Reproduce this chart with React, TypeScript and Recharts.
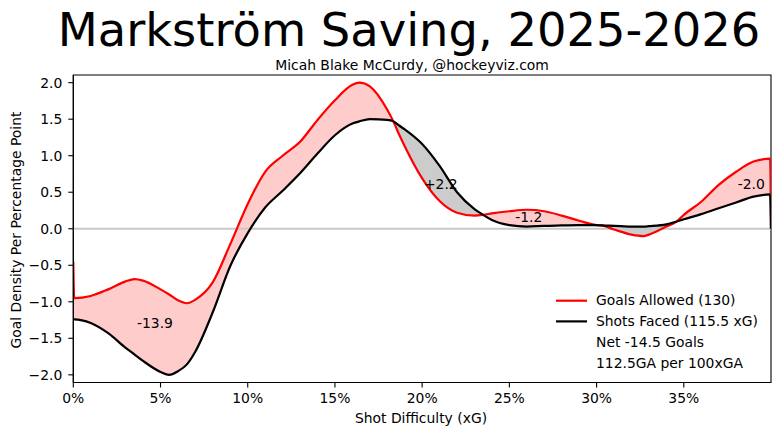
import React from 'react';
import {
  ComposedChart,
  Line,
  Area,
  XAxis,
  YAxis,
  ReferenceLine,
  ReferenceArea,
  ReferenceDot,
} from 'recharts';

// Shot difficulty (xG, as fraction)
const shotDifficulty = [
  0, 0.0005, 0.01, 0.02, 0.03, 0.035, 0.04, 0.05, 0.055, 0.06, 0.065, 0.07, 0.08, 0.09, 0.1,
  0.11, 0.12, 0.13, 0.14, 0.15, 0.16, 0.164, 0.17, 0.18, 0.1835, 0.187, 0.19, 0.2, 0.21,
  0.22, 0.23, 0.235, 0.24, 0.25, 0.26, 0.27, 0.28, 0.29, 0.3, 0.303, 0.31, 0.32, 0.327,
  0.33, 0.34, 0.346, 0.35, 0.36, 0.37, 0.38, 0.39, 0.3995, 0.4,
];

// Goals Allowed density
const goalsAllowed = [
  -0.45, -0.95, -0.92, -0.83, -0.72, -0.69, -0.71, -0.83, -0.9, -0.98, -1.02, -0.97, -0.73, -0.21, 0.34,
  0.78, 1.0, 1.19, 1.49, 1.76, 1.97, 2.0, 1.95, 1.63, 1.47, 1.28, 1.13, 0.69, 0.38,
  0.22, 0.18, 0.19, 0.21, 0.24, 0.26, 0.24, 0.18, 0.11, 0.05, 0.045, -0.01, -0.08, -0.1,
  -0.08, 0.03, 0.1, 0.19, 0.37, 0.6, 0.78, 0.92, 0.96, 0,
];

// Shots Faced density
const shotsFaced = [
  -1.24, -1.24, -1.29, -1.43, -1.63, -1.72, -1.81, -1.96, -2.0, -1.95, -1.86, -1.68, -1.14, -0.51, -0.06,
  0.29, 0.52, 0.76, 1.03, 1.28, 1.44, 1.47, 1.5, 1.49, 1.47, 1.41, 1.36, 1.16, 0.86,
  0.5, 0.27, 0.19, 0.12, 0.05, 0.03, 0.04, 0.045, 0.05, 0.05, 0.045, 0.04, 0.03, 0.03,
  0.035, 0.06, 0.1, 0.13, 0.2, 0.28, 0.36, 0.44, 0.47, 0,
];

const xTicks = [0, 0.05, 0.1, 0.15, 0.2, 0.25, 0.3, 0.35];
const yTicks = [-2, -1.5, -1, -0.5, 0, 0.5, 1, 1.5, 2];

const annotationLabels = ['-13.9', '+2.2', '-1.2', '-2.0'];
const annotationX = [0.0468, 0.2107, 0.2611, 0.3887];
const annotationY = [-1.286, 0.616, 0.164, 0.616];

const legendLabels = ['Goals Allowed (130)', 'Shots Faced (115.5 xG)'];
const legendExtra = ['Net -14.5 Goals', '112.5GA per 100xGA'];

const TITLE = 'Markström Saving, 2025-2026';
const SUBTITLE = 'Micah Blake McCurdy, @hockeyviz.com';
const X_LABEL = 'Shot Difficulty (xG)';
const Y_LABEL = 'Goal Density Per Percentage Point';

const X_MIN = 0;
const X_MAX = 0.4;
const Y_MIN = -2.105;
const Y_MAX = 2.105;

const RED = '#ff0000';
const BLACK = '#000000';
const PINK = '#ffcccc';
const GREY = '#cccccc';
const FONT = '"DejaVu Sans", sans-serif';
const FS = 13.9;

const data = shotDifficulty.map((x, i) => {
  const r = goalsAllowed[i];
  const b = shotsFaced[i];
  const hi = Math.max(r, b);
  return {
    x,
    ga: r,
    sf: b,
    pinkBand: [b, hi],
    greyBand: [r, hi],
  };
});

const fmtY = (v: number) => v.toFixed(1).replace('-', '\u2212');
const fmtX = (v: number) => `${Math.round(v * 100)}%`;

const AnnotationLabel = (text: string) => (props: any) => {
  const vb = props.viewBox || {};
  const cx = (vb.x ?? 0) + (vb.width ?? 0) / 2;
  const cy = (vb.y ?? 0) + (vb.height ?? 0) / 2;
  return (
    <text
      x={cx}
      y={cy + 5}
      textAnchor="middle"
      fontFamily={FONT}
      fontSize={FS}
      fill="#000"
    >
      {text}
    </text>
  );
};

export default function App() {
  return (
    <div style={{ position: 'absolute', left: 0, top: 0, width: 780, height: 436, background: '#fff' }}>
      <ComposedChart
        width={780}
        height={436}
        data={data}
        margin={{ top: 75, right: 9, bottom: 0, left: 0 }}
      >
        <XAxis
          dataKey="x"
          type="number"
          domain={[X_MIN, X_MAX]}
          ticks={xTicks}
          tickFormatter={fmtX}
          allowDataOverflow
          height={53.5}
          tickSize={5}
          tickMargin={6}
          axisLine={{ stroke: '#000', strokeWidth: 1.1 }}
          tickLine={{ stroke: '#000', strokeWidth: 1.1 }}
          tick={{ fill: '#000', fontSize: FS, fontFamily: FONT }}
        />
        <YAxis
          type="number"
          domain={[Y_MIN, Y_MAX]}
          ticks={yTicks}
          tickFormatter={fmtY}
          allowDataOverflow
          width={73.3}
          tickSize={5}
          tickMargin={6}
          axisLine={{ stroke: '#000', strokeWidth: 1.1 }}
          tickLine={{ stroke: '#000', strokeWidth: 1.1 }}
          tick={{ fill: '#000', fontSize: FS, fontFamily: FONT }}
        />
        <ReferenceLine y={0} stroke="#c8c8c8" strokeWidth={1.8} />
        <Area
          dataKey="pinkBand"
          type="monotone"
          fill={PINK}
          fillOpacity={1}
          stroke="none"
          isAnimationActive={false}
          dot={false}
          activeDot={false}
        />
        <Area
          dataKey="greyBand"
          type="monotone"
          fill={GREY}
          fillOpacity={1}
          stroke="none"
          isAnimationActive={false}
          dot={false}
          activeDot={false}
        />
        <Line
          dataKey="ga"
          type="monotone"
          stroke={RED}
          strokeWidth={2.2}
          dot={false}
          activeDot={false}
          isAnimationActive={false}
        />
        <Line
          dataKey="sf"
          type="monotone"
          stroke={BLACK}
          strokeWidth={2.2}
          dot={false}
          activeDot={false}
          isAnimationActive={false}
        />
        {annotationLabels.map((t, i) => (
          <ReferenceDot
            key={t}
            x={annotationX[i]}
            y={annotationY[i]}
            r={1}
            fill="none"
            stroke="none"
            label={AnnotationLabel(t)}
          />
        ))}
        <ReferenceArea
          x1={X_MIN}
          x2={X_MAX}
          y1={Y_MIN}
          y2={Y_MAX}
          fill="none"
          fillOpacity={0}
          stroke="#000"
          strokeWidth={1.1}
        />
      </ComposedChart>
      <svg
        width={780}
        height={436}
        style={{ position: 'absolute', left: 0, top: 0, pointerEvents: 'none' }}
      >
        <text x={409} y={46} textAnchor="middle" fontFamily={FONT} fontSize={46.4} fill="#000">
          {TITLE}
        </text>
        <text x={412} y={70} textAnchor="middle" fontFamily={FONT} fontSize={FS} fill="#000">
          {SUBTITLE}
        </text>
        <text x={421} y={423.3} textAnchor="middle" fontFamily={FONT} fontSize={FS} fill="#000">
          {X_LABEL}
        </text>
        <text
          x={0}
          y={0}
          transform="translate(21,230) rotate(-90)"
          textAnchor="middle"
          fontFamily={FONT}
          fontSize={FS}
          fill="#000"
        >
          {Y_LABEL}
        </text>
        {legendLabels.map((t, i) => (
          <g key={t}>
            <line
              x1={556}
              x2={587}
              y1={300.7 + i * 20.7}
              y2={300.7 + i * 20.7}
              stroke={i === 0 ? RED : BLACK}
              strokeWidth={2.2}
            />
            <text x={596} y={305.3 + i * 20.7} fontFamily={FONT} fontSize={FS} fill="#000">
              {t}
            </text>
          </g>
        ))}
        {legendExtra.map((t, i) => (
          <text key={t} x={596} y={346.7 + i * 20.8} fontFamily={FONT} fontSize={FS} fill="#000">
            {t}
          </text>
        ))}
      </svg>
    </div>
  );
}
